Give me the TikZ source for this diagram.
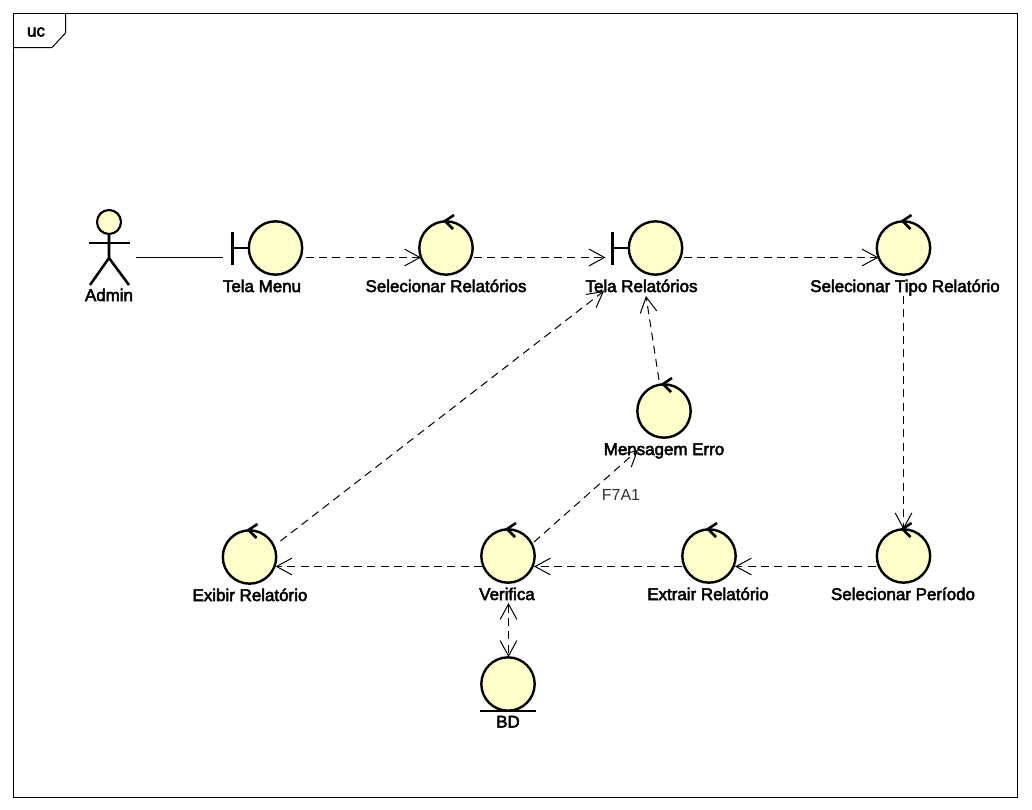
\documentclass[tikz,border=0pt]{standalone}
\usepackage{fontspec}
\setmainfont{Liberation Sans}
\newfontfamily\umlfont{Liberation Sans}[FakeBold=3]
\usetikzlibrary{arrows.meta,calc}
\definecolor{ink}{HTML}{000000}
\definecolor{cream}{HTML}{FFFFCC}
\tikzset{
  >={Straight Barb[length=11.5pt,width=12.5pt]},
  every node/.style={text=ink},
  ctrl/.style={circle,draw=ink,fill=cream,line width=1.8pt,minimum size=40pt,inner sep=0pt,outer sep=0pt},
  bnd/.style={ctrl},
  ent/.style={ctrl},
  head/.style={ctrl,minimum size=18pt,line width=1.6pt},
  stroke/.style={draw=ink,line width=1.9pt},
  lbl/.style={font=\fontsize{12.7pt}{14pt}\umlfont,inner sep=0pt,anchor=base},
  guard/.style={font=\fontsize{12pt}{14pt}\selectfont,inner sep=0pt,anchor=base,text=ink!80},
  frameline/.style={draw=ink,line width=0.75pt},
  assoc/.style={draw=ink,line width=0.75pt},
  dep/.style={->,draw=ink,line width=0.75pt,dash pattern=on 6pt off 4pt}
}
\begin{document}
\begin{tikzpicture}[x=0.75pt,y=-0.75pt]
  \useasboundingbox (0,0) rectangle (1032,810);
  % frame
  \coordinate (fa) at (13.5,13.5);
  \coordinate (fb) at (1017.5,797.5);
  \draw[frameline,fill=white] (fa) rectangle (fb);
  \draw[frameline] (13.5,47.5) -- (52,47.5) -- (65.5,33) -- (65.5,13.5);
  \node[lbl] (uc) at (36,36.5) {uc};

  % actor
  \node[head] (admin) at (109,222) {};
  \node[lbl] (adminl) at (109,301) {Admin};
  \draw[stroke] (admin.south) -- (109,258) -- (90,285);
  \draw[stroke] (109,258) -- (129,285);
  \draw[stroke] (89,243) -- (130,243);

  % boundaries
  \node[bnd] (menu) at (275.5,248) {};
  \node[lbl] (menul) at (262,292) {Tela Menu};
  \node[bnd] (telarel) at (655.5,248) {};
  \node[lbl] (telarell) at (641.5,292) {Tela Relatórios};

  % controls
  \node[ctrl] (selrel) at (446,248) {};
  \node[lbl] (selrell) at (446,292) {Selecionar Relatórios};
  \node[ctrl] (seltipo) at (903.5,248) {};
  \node[lbl] (seltipol) at (905,292) {Selecionar Tipo Relatório};
  \node[ctrl] (msgerro) at (664,411) {};
  \node[lbl] (msgerrol) at (664,455) {Mensagem Erro};
  \node[ctrl] (exibir) at (249.5,557) {};
  \node[lbl] (exibirl) at (250,601) {Exibir Relatório};
  \node[ctrl] (verifica) at (508,556) {};
  \node[lbl] (verifical) at (507,600) {Verifica};
  \node[ctrl] (extrair) at (709,556) {};
  \node[lbl] (extrairl) at (708,600) {Extrair Relatório};
  \node[ctrl] (selper) at (903.5,556) {};
  \node[lbl] (selperl) at (903,600) {Selecionar Período};

  % entity
  \node[ent] (bd) at (508,684) {};
  \node[lbl] (bdl) at (508,727.5) {BD};

  % icon marks
  \foreach \n in {menu,telarel}
    \draw[stroke] ([shift={(-43,-16)}]\n.center) -- ([shift={(-43,17)}]\n.center)
      ([shift={(-43,0)}]\n.center) -- (\n.west);
  \foreach \n in {selrel,seltipo,msgerro,exibir,verifica,extrair,selper}
    \draw[stroke] ([shift={(8,-33)}]\n.center) -- ([shift={(-1,-27)}]\n.center) -- ([shift={(7,-19)}]\n.center);
  \draw[stroke] ([shift={(-28,27)}]bd.center) -- ([shift={(28,27)}]bd.center);

  % connectors
  \draw[assoc] ([shift={(27,35.5)}]admin.center) -- ([shift={(-53,9.5)}]menu.center);
  \draw[dep] ([shift={(30,9.5)}]menu.center) -- ([shift={(-25,9.5)}]selrel.center);
  \draw[dep] ([shift={(28,9.5)}]selrel.center) -- ([shift={(-50,9.5)}]telarel.center);
  \draw[dep] ([shift={(28,9.5)}]telarel.center) -- ([shift={(-25,9.5)}]seltipo.center);
  \draw[dep] ([shift={(0,48)}]seltipo.center) -- (selper.north);
  \draw[dep] ([shift={(-28,10.5)}]selper.center) -- ([shift={(26,10.5)}]extrair.center);
  \draw[dep] ([shift={(-27,10.5)}]extrair.center) -- ([shift={(26,10.5)}]verifica.center);
  \draw[dep] ([shift={(-26,10.5)}]verifica.center) -- ([shift={(26,9.5)}]exibir.center);
  \draw[dep] ([shift={(31,-16)}]exibir.center) -- ([shift={(-51.5,43)}]telarel.center);
  \draw[dep] ([shift={(-5,-31)}]msgerro.center) -- ([shift={(-9.5,48)}]telarel.center);
  \draw[dep] ([shift={(26,-14)}]verifica.center) -- ([shift={(-26,39)}]msgerro.center);
  \draw[dep,<->] ([shift={(0.5,47)}]verifica.center) -- ([shift={(0.5,-27)}]bd.center);
  \node[guard] (f7a1) at (621,500) {F7A1};
\end{tikzpicture}
\end{document}
